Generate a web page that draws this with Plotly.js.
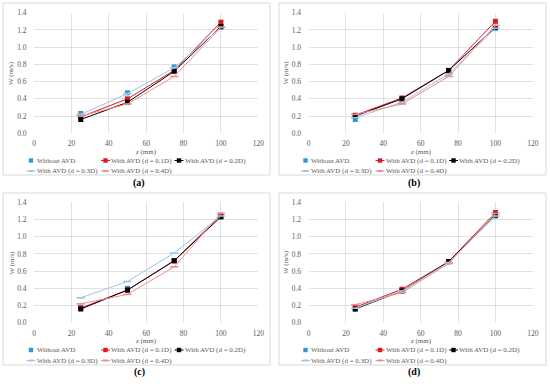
<!DOCTYPE html>
<html><head><meta charset="utf-8">
<script src="https://cdn.plot.ly/plotly-3.0.1.min.js"></script>
<style>html,body{margin:0;padding:0;background:#fff;} #chart{width:550px;height:384px;}</style>
</head><body><div id="chart"></div>
<script>
// ---------- data ----------
const zPositions = [25, 50, 75, 100];
const seriesNames = ['Without AVD', 'With AVD (d = 0.1D)', 'With AVD (d = 0.2D)', 'With AVD (d = 0.3D)', 'With AVD (d = 0.4D)'];
const panelLabels = ['(a)', '(b)', '(c)', '(d)'];
const xTickVals = [0, 20, 40, 60, 80, 100, 120];
const yTickVals = [0, 0.2, 0.4, 0.6, 0.8, 1.0, 1.2, 1.4];
const yTickText = ['0.0', '0.2', '0.4', '0.6', '0.8', '1.0', '1.2', '1.4'];
const xTitle = '<i>z</i> (mm)';
const yTitle = 'W (m/s)';

// panel (a)
const a_without = [0.23, 0.47, 0.77, 1.23];
const a_d01 = [0.19, 0.40, 0.73, 1.29];
const a_d02 = [0.16, 0.36, 0.72, 1.24];
const a_d03 = [0.22, 0.46, 0.76, 1.23];
const a_d04 = [0.20, 0.34, 0.66, 1.23];
// panel (b)
const b_without = [0.16, 0.37, 0.70, 1.22];
const b_d01 = [0.21, 0.41, 0.73, 1.30];
const b_d02 = [0.20, 0.40, 0.73, 1.23];
const b_d03 = [0.18, 0.36, 0.69, 1.22];
const b_d04 = [0.22, 0.34, 0.66, 1.25];
// panel (c)
const c_without = [0.18, 0.40, 0.72, 1.23];
const c_d01 = [0.17, 0.38, 0.72, 1.25];
const c_d02 = [0.16, 0.38, 0.72, 1.23];
const c_d03 = [0.29, 0.48, 0.81, 1.24];
const c_d04 = [0.22, 0.33, 0.65, 1.27];
// panel (d)
const d_without = [0.16, 0.37, 0.71, 1.24];
const d_d01 = [0.18, 0.39, 0.71, 1.28];
const d_d02 = [0.16, 0.37, 0.71, 1.25];
const d_d03 = [0.17, 0.37, 0.70, 1.24];
const d_d04 = [0.21, 0.35, 0.69, 1.27];

const panelData = [
  [a_without, a_d01, a_d02, a_d03, a_d04],
  [b_without, b_d01, b_d02, b_d03, b_d04],
  [c_without, c_d01, c_d02, c_d03, c_d04],
  [d_without, d_d01, d_d02, d_d03, d_d04]
];

// ---------- styles ----------
const W = 550, H = 384;
const FONT = 'Liberation Serif, Times New Roman, serif';
const TXT = '#595959';
const GRID = '#d9d9d9';
const seriesStyle = [
  {color: '#2f97d6', mode: 'markers', symbol: 'square', msize: 5},
  {color: '#e3161d', mode: 'lines+markers', symbol: 'square', msize: 5},
  {color: '#000000', mode: 'lines+markers', symbol: 'square', msize: 5},
  {color: '#9fc5e6', mode: 'lines+markers', symbol: 'line-ew', msize: 6},
  {color: '#ee8e8e', mode: 'lines+markers', symbol: 'line-ew', msize: 6}
];
// panel pixel offsets (relative to panel a)
const offsets = [[0, 0], [274.5, 0], [0, 189.5], [274.5, 189.5]];
const framesOff = [[0, 0], [276, 0], [0, 190], [276, 190]];

const px = x => x / W;
const py = y => 1 - y / H;

const traces = [];
const layout = {
  width: W, height: H,
  margin: {l: 0, r: 0, t: 0, b: 0},
  paper_bgcolor: '#ffffff', plot_bgcolor: '#ffffff',
  showlegend: false,
  shapes: [], annotations: []
};

panelData.forEach((series, p) => {
  const [ox, oy] = offsets[p];
  const n = p === 0 ? '' : String(p + 1);
  const xa = 'xaxis' + n, ya = 'yaxis' + n;
  layout[xa] = {
    domain: [px(34 + ox), px(258.3 + ox)], anchor: 'y' + n,
    range: [0, 120], tickvals: xTickVals, ticktext: xTickVals.map(String),
    showgrid: true, gridcolor: GRID, gridwidth: 0.8, zeroline: false, showline: false,
    ticks: 'outside', ticklen: 3, tickcolor: 'rgba(0,0,0,0)',
    tickfont: {family: FONT, size: 7.5, color: TXT},
    fixedrange: true
  };
  layout[ya] = {
    domain: [py(133.3 + oy), py(12.7 + oy)], anchor: 'x' + n,
    range: [0, 1.4], tickvals: yTickVals, ticktext: yTickText,
    showgrid: true, gridcolor: GRID, gridwidth: 0.8, zeroline: false, showline: false,
    ticks: 'outside', ticklen: 5, tickcolor: 'rgba(0,0,0,0)',
    tickfont: {family: FONT, size: 7.5, color: TXT},
    fixedrange: true
  };
  series.forEach((vals, i) => {
    const s = seriesStyle[i];
    const isDash = s.symbol === 'line-ew';
    traces.push({
      type: 'scatter', x: zPositions, y: vals, name: seriesNames[i],
      xaxis: 'x' + n, yaxis: 'y' + n, mode: s.mode,
      line: {color: s.color, width: 1},
      marker: {symbol: s.symbol, size: s.msize, color: s.color,
               line: {color: s.color, width: isDash ? 1.6 : 0}},
      cliponaxis: false, hoverinfo: 'skip'
    });
  });

  // axis titles
  layout.annotations.push({xref: 'paper', yref: 'paper', x: px(146 + ox), y: py(151.5 + oy),
    xanchor: 'center', yanchor: 'middle', showarrow: false, text: xTitle,
    font: {family: FONT, size: 7, color: TXT}, borderpad: 0});
  layout.annotations.push({xref: 'paper', yref: 'paper', x: px(11 + ox), y: py(73 + oy),
    xanchor: 'center', yanchor: 'middle', showarrow: false, text: yTitle, textangle: -90,
    font: {family: FONT, size: 7, color: TXT}, borderpad: 0});

  // frame
  const [fx, fy] = framesOff[p];
  layout.shapes.push({type: 'rect', xref: 'paper', yref: 'paper',
    x0: px(3 + fx), x1: px(270 + fx), y0: py(175 + fy), y1: py(3 + fy),
    line: {color: GRID, width: 1}, fillcolor: 'rgba(0,0,0,0)', layer: 'below'});

  // legend (two rows, three columns)
  const colX = [31, 105.5, 179];
  const rowY = [160.5, 171];
  seriesNames.forEach((name, i) => {
    const s = seriesStyle[i];
    const mx = colX[i < 3 ? i : i - 3] + ox;
    const my = rowY[i < 3 ? 0 : 1] + oy;
    if (s.mode.indexOf('lines') >= 0) {
      layout.shapes.push({type: 'line', xref: 'paper', yref: 'paper',
        x0: px(mx - 4.5), x1: px(mx + 4.5), y0: py(my), y1: py(my),
        line: {color: s.color, width: 1}});
    }
    if (s.symbol === 'square') {
      layout.shapes.push({type: 'rect', xref: 'paper', yref: 'paper',
        x0: px(mx - 2.2), x1: px(mx + 2.2), y0: py(my + 2.2), y1: py(my - 2.2),
        line: {width: 0}, fillcolor: s.color});
    } else {
      layout.shapes.push({type: 'line', xref: 'paper', yref: 'paper',
        x0: px(mx - 2.5), x1: px(mx + 2.5), y0: py(my), y1: py(my),
        line: {color: s.color, width: 2}});
    }
    layout.annotations.push({xref: 'paper', yref: 'paper', x: px(mx + 4.5), y: py(my),
      xanchor: 'left', yanchor: 'middle', showarrow: false, text: name,
      font: {family: FONT, size: 7, color: TXT}, borderpad: 0});
  });

  // caption
  layout.annotations.push({xref: 'paper', yref: 'paper', x: px(139 + ox), y: py(182.5 + oy),
    xanchor: 'center', yanchor: 'middle', showarrow: false, text: '<b>' + panelLabels[p] + '</b>',
    font: {family: FONT, size: 10, color: '#000000'}});
});

Plotly.newPlot('chart', traces, layout, {staticPlot: true, displayModeBar: false});
</script>
</body></html>
